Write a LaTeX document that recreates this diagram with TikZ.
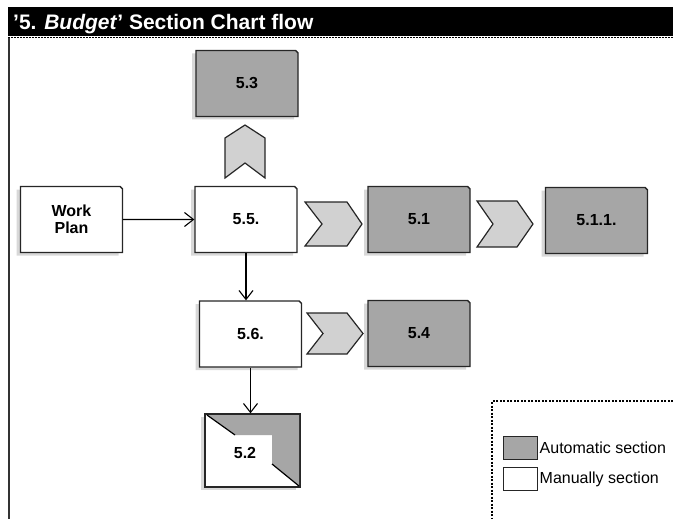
\documentclass[tikz,border=0pt]{standalone}
\usepackage{fontspec}
\setmainfont{Liberation Sans}
\usetikzlibrary{shapes.misc,arrows.meta,shadows}

\begin{document}
\begin{tikzpicture}[x=1pt, y=-1pt,
	section/.style={chamfered rectangle, chamfered rectangle corners=north east,
		chamfered rectangle xsep=1.2pt, chamfered rectangle ysep=1.2pt,
		draw=black!85, line width=1.3pt, minimum width=102pt, minimum height=66pt,
		inner sep=0pt, align=center, font=\bfseries\fontsize{16}{17.5}\selectfont,
		drop shadow={shadow xshift=-4pt, shadow yshift=-3pt, fill=black!30, opacity=.5}},
	manualbox/.style={section, fill=white},
	autobox/.style={section, fill=black!35},
	chev/.style={draw=black!85, line width=1.2pt, fill=black!18},
	flow/.style={line width=1.1pt, -{Straight Barb[length=9pt, width=14pt, line width=1.1pt]}},
	legendkey/.style={rectangle, draw=black!85, line width=1pt, minimum width=34pt, minimum height=23pt, inner sep=0pt}
	]
	\useasboundingbox (0,0) rectangle (673,519);
	
	%Title bar
	\fill[black] (8,7) rectangle (673,36);
	\draw[line width=1.5pt, dash pattern=on 1.5pt off 1.5pt] (8,37.5) -- (673,37.5);
	\draw[line width=1.3pt, black!80] (9,38) -- (9,519);
	\node[anchor=base west, inner sep=0pt, text=white, font=\bfseries\fontsize{21}{24}\selectfont] (title) at (13,30) {'5. \textit{Budget}' Section Chart flow};
	
	%Sections
	\node[manualbox] (workplan) at (71.5,219.5) {Work\\Plan};
	\node[manualbox] (box55) at (246,219.5) {5.5.};
	\node[autobox] (box53) at (247,83.5) {5.3};
	\node[autobox] (box51) at (419,219.5) {5.1};
	\node[autobox] (box511) at (596.5,220.5) {5.1.1.};
	\node[manualbox] (box56) at (250.5,334) {5.6.};
	\node[autobox] (box54) at (419,333.5) {5.4};
	
	%Section 5.2, half automatic
	\node[manualbox, rectangle, minimum width=95pt, minimum height=73pt] (box52) at (252.5,450.5) {};
	\fill[black!35] (207,415) -- (235,435) -- (272,435) -- (272,464) -- (299,486) -- (299,415) -- cycle;
	\draw[line width=1.2pt] (207,415) -- (235,435) (272,464) -- (299,486);
	\draw[line width=1.3pt, draw=black!85] (box52.north west) rectangle (box52.south east);
	\node[font=\bfseries\fontsize{16}{17.5}\selectfont, inner sep=0pt] (box52text) at (245,453) {5.2};
	
	%Arrows
	\draw[flow] (workplan) -- (box55);
	\draw[flow] (box55.south) -- (box55.south |- box56.north);
	\draw[flow] (box56.south) -- (box56.south |- box52.north);
	
	%Chevron up to 5.3
	\def\x{225}
	\def\y{125}
	\draw[chev] (\x+20,\y) -- (\x+40,\y+13) -- (\x+40,\y+53) -- (\x+20,\y+38) -- (\x,\y+53) -- (\x,\y+13) -- cycle;
	
	%Chevron 5.5 -> 5.1
	\def\x{305}
	\def\y{202}
	\draw[chev] (\x,\y) -- (\x+42,\y) -- (\x+57,\y+22) -- (\x+42,\y+44) -- (\x,\y+44) -- (\x+17,\y+22) -- cycle;
	
	%Chevron 5.1 -> 5.1.1.
	\def\x{477}
	\def\y{201}
	\draw[chev] (\x,\y) -- (\x+40,\y) -- (\x+56,\y+23) -- (\x+40,\y+46) -- (\x,\y+46) -- (\x+16,\y+23) -- cycle;
	
	%Chevron 5.6 -> 5.4
	\def\x{307}
	\def\y{313}
	\draw[chev] (\x,\y) -- (\x+40,\y) -- (\x+56,\y+20.5) -- (\x+40,\y+41) -- (\x,\y+41) -- (\x+16,\y+20.5) -- cycle;
	
	%Legend
	\draw[line width=1.5pt, dash pattern=on 2pt off 1.5pt] (673,401) -- (492,401) -- (492,519);
	\node[legendkey, fill=black!35] (keyauto) at (520,447.5) {};
	\node[legendkey, fill=white] (keymanual) at (520,479) {};
	\node[anchor=west, inner sep=2pt, font=\fontsize{16}{18}\selectfont] (keyautotext) at (keyauto.east) {Automatic section};
	\node[anchor=west, inner sep=2pt, font=\fontsize{16}{18}\selectfont] (keymanualtext) at (keymanual.east) {Manually section};
\end{tikzpicture}
\end{document}
